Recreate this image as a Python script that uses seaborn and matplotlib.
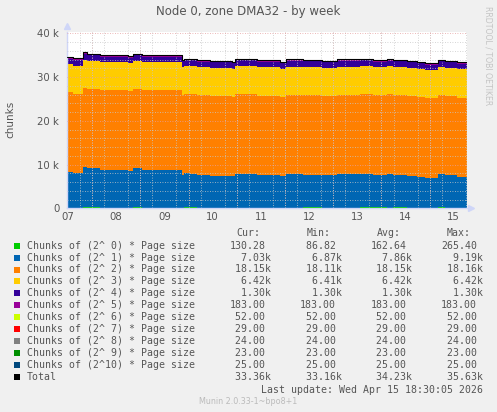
import numpy as np
import matplotlib
matplotlib.use("Agg")
import matplotlib.pyplot as plt
import seaborn as sns
from matplotlib.patches import Rectangle

# time in day-of-month (April), step starts
days = [7.48, 7.61, 7.81, 7.90, 8.17, 8.75, 8.85, 9.04, 9.87, 9.91, 10.03,
        10.17, 10.45, 10.90, 10.96, 11.42, 11.90, 12.02, 12.38, 12.77, 13.08,
        13.56, 13.83, 14.12, 14.24, 14.54, 14.74, 14.91, 15.18, 15.32, 15.57, 15.77]

order0 = [180, 150, 265, 210, 170, 140, 200, 160, 120, 230, 190, 150, 130, 100,
          180, 160, 140, 87, 200, 170, 150, 190, 210, 160, 220, 170, 140, 120,
          240, 180, 130, 130]
order1 = [8200, 7950, 9190, 8900, 8650, 8400, 8900, 8650, 7600, 7800, 7750,
          7500, 7360, 7200, 7750, 7450, 7200, 7740, 7500, 7360, 7670, 7740,
          7450, 7740, 7500, 7300, 7100, 6870, 7500, 7360, 7030, 7030]
order2 = [18120, 18110, 18140, 18150, 18150, 18160, 18150, 18150, 18140, 18150,
          18150, 18160, 18150, 18150, 18150, 18160, 18150, 18150, 18150, 18140,
          18150, 18150, 18160, 18150, 18150, 18150, 18150, 18160, 18150, 18150,
          18150, 18150]
order3 = [6420, 6420, 6410, 6420, 6420, 6420, 6420, 6420, 6420, 6410, 6420,
          6420, 6420, 6420, 6420, 6420, 6420, 6420, 6420, 6420, 6420, 6420,
          6420, 6420, 6410, 6420, 6420, 6420, 6420, 6420, 6420, 6420]
# orders whose min == max in the legend
order_const = {4: 1300, 5: 183, 6: 52, 7: 29, 8: 24, 9: 23, 10: 25}

colors = ["#00CC00", "#0066B3", "#FF8000", "#FFCC00", "#330099", "#990099",
          "#CCFF00", "#FF0000", "#808080", "#008F00", "#00487D"]

labels = ["Chunks of (2^%2d) * Page size" % i for i in range(11)] + ["Total"]
cur = [130.28, 7030, 18150, 6420, 1300, 183, 52, 29, 24, 23, 25, 33360]
mins = [86.82, 6870, 18110, 6410, 1300, 183, 52, 29, 24, 23, 25, 33160]
avgs = [162.64, 7860, 18150, 6420, 1300, 183, 52, 29, 24, 23, 25, 34230]
maxs = [265.40, 9190, 18160, 6420, 1300, 183, 52, 29, 24, 23, 25, 35630]

sns.set_style("white")
plt.rcParams["font.family"] = ["DejaVu Sans"]

W, H = 497, 412
fig = plt.figure(figsize=(W / 100, H / 100), dpi=100, facecolor="#F0F0F0")
ax = fig.add_axes([67 / W, (H - 208.3) / H, 400 / W, (208.3 - 31.7) / H])
ax.set_facecolor("white")

x = np.array(days)
series = [np.array(order0, float), np.array(order1, float),
          np.array(order2, float), np.array(order3, float)]
for i in range(4, 11):
    series.append(np.full(len(x), order_const[i], float))

base = np.zeros(len(x))
for s, c in zip(series, colors):
    ax.fill_between(x, base, base + s, step="post", color=c, linewidth=0, zorder=1)
    base = base + s

sns.lineplot(x=x, y=base, drawstyle="steps-post", color="black", lw=0.8,
             ax=ax, zorder=3)

ax.set_xlim(7.48, 15.774)
ax.set_ylim(0, 40370)

# grid
ax.set_xticks(np.arange(7.5, 15.6, 1.0))
ax.set_xticklabels(["%02d" % d for d in range(7, 16)])
ax.set_xticks(np.arange(7.5, 15.8, 0.25), minor=True)
ax.set_yticks([0, 10000, 20000, 30000, 40000])
ax.set_yticklabels(["0", "10 k", "20 k", "30 k", "40 k"])
ax.set_yticks(np.arange(0, 40001, 2000), minor=True)
ax.grid(False)
ax.grid(which="minor", color="#C8C8C8", linestyle=(0, (1, 2)), lw=0.6, zorder=2)
ax.yaxis.grid(which="major", color="#E6A0A0", linestyle=(0, (1, 2)), lw=0.6)
for d in range(8, 16):
    ax.axvline(d, color="#E6A0A0", linestyle=(0, (1, 2)), lw=0.6, zorder=2.5)
ax.set_axisbelow(False)

ax.tick_params(which="both", length=0, labelsize=7.3, colors="#555555")
ax.tick_params(axis="y", pad=5.5)
ax.tick_params(axis="x", pad=3)
ax.set_xlabel("")
ax.set_ylabel("")

for sp in ["top", "right"]:
    ax.spines[sp].set_visible(False)
for sp in ["left", "bottom"]:
    ax.spines[sp].set_color("#CFD6F8")
    ax.spines[sp].set_linewidth(1)
ax.plot([0], [1.03], marker="^", ms=4, color="#CFD6F8", transform=ax.transAxes,
        clip_on=False)
ax.plot([1.01], [0], marker=">", ms=4, color="#CFD6F8", transform=ax.transAxes,
        clip_on=False)

fig.text(248 / W, 1 - 12 / H, "Node 0, zone DMA32 - by week", ha="center",
         va="center", fontsize=8.5, color="#555555")
fig.text(10 / W, 1 - 119 / H, "chunks", rotation=90, ha="center", va="center",
         fontsize=7.5, color="#555555")
fig.text(488 / W, 1 - 56 / H, "RRDTOOL / TOBI OETIKER", rotation=270,
         ha="center", va="center", fontsize=5.6, color="#C4C4C4")

# legend table
mono = "DejaVu Sans Mono"
fs = 7.1
tc = "#555555"


def fmt(v):
    if v >= 1000:
        return "%6.2fk" % (v / 1000)
    return "%6.2f" % v


for hx, h in zip([236, 307, 377, 447], ["Cur:", "Min:", "Avg:", "Max:"]):
    fig.text(hx / W, 1 - 233 / H, h, family=mono, fontsize=fs, color=tc,
             va="center")
sw_colors = colors + ["#000000"]
for r in range(12):
    yy = 245.7 + r * 11.9
    fig.add_artist(Rectangle((14 / W, 1 - (yy + 3) / H), 6 / W, 6 / H,
                             transform=fig.transFigure, color=sw_colors[r], lw=0))
    fig.text(27 / W, 1 - yy / H, labels[r], family=mono, fontsize=fs, color=tc,
             va="center")
    for cx, vals in zip([229.3, 300, 370.5, 441], [cur, mins, avgs, maxs]):
        fig.text(cx / W, 1 - yy / H, fmt(vals[r]), family=mono, fontsize=fs,
                 color=tc, va="center")

fig.text(483 / W, 1 - 390 / H, "Last update: Wed Apr 15 18:30:05 2026",
         family=mono, fontsize=fs, color=tc, ha="right", va="center")
fig.text(248 / W, 1 - 401 / H, "Munin 2.0.33-1~bpo8+1", ha="center",
         va="center", fontsize=5.8, color="#BBBBBB")

fig.savefig("out.png", dpi=100, facecolor=fig.get_facecolor())
